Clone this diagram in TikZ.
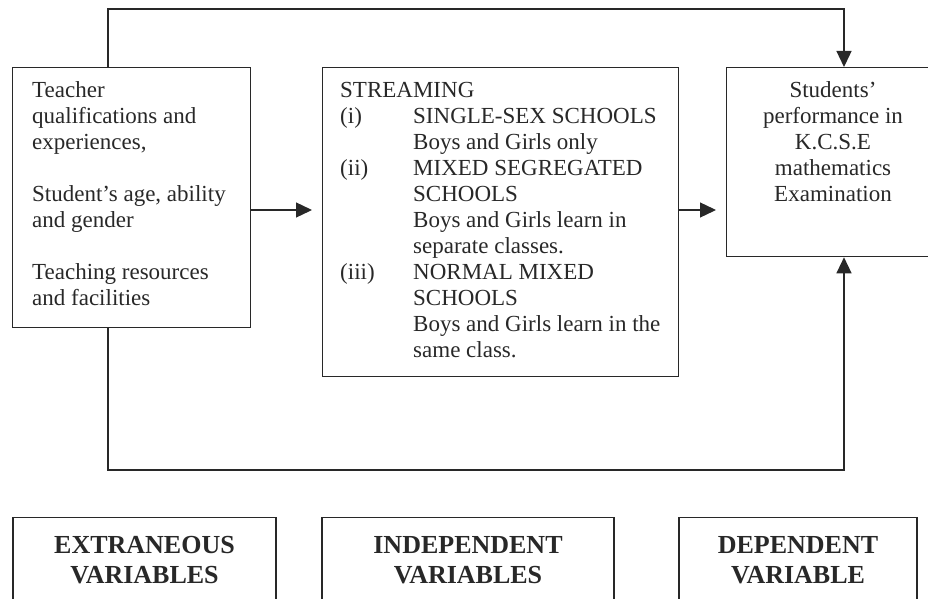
\documentclass[tikz,border=0pt]{standalone}
\usepackage{fontspec}
\setmainfont{Liberation Serif}
\usepackage{tikz}
\usetikzlibrary{arrows.meta,positioning}
\usepackage{xcolor}
\definecolor{inkgray}{RGB}{40,40,40}
\tikzstyle{frame} = [draw=inkgray, line width=1.3pt, inner sep=0pt, anchor=north west]
\tikzstyle{boxtext} = [text=inkgray, inner sep=0pt, font=\fontsize{23}{26}\selectfont]
\tikzstyle{vartitle} = [draw=inkgray, line width=1.3pt, text=inkgray, anchor=north, inner xsep=0pt, inner ysep=19pt, align=center, font=\fontsize{26}{30}\selectfont\bfseries]
\tikzstyle{flow} = [draw=inkgray, line width=1.3pt, -{Triangle[length=16pt,width=15pt]}]
\newcommand{\itemlbl}[1]{\makebox[73pt][l]{#1}}

\begin{document}
\begin{tikzpicture}[x=1pt, y=-1pt]
\useasboundingbox (0,0) rectangle (928,599);

% Boxes
\node[frame, minimum width=238pt, minimum height=260pt] (ext) at (12,67) {};
\node[frame, minimum width=356pt, minimum height=309pt] (ind) at (322,67) {};
\node[frame, minimum width=214pt, minimum height=189pt] (dep) at (726,67) {};

% Box texts
\node[boxtext, anchor=north west, align=left] (exttext) at (32,81)
  {Teacher\\qualifications and\\experiences,\\[26pt]Student's age, ability\\and gender\\[26pt]Teaching resources\\and facilities};
\node[boxtext, anchor=north west, align=left] (indtext) at (340,82)
  {STREAMING\\
   \itemlbl{(i)}SINGLE-SEX SCHOOLS\\
   \itemlbl{}Boys and Girls only\\
   \itemlbl{(ii)}MIXED SEGREGATED\\
   \itemlbl{}SCHOOLS\\
   \itemlbl{}Boys and Girls learn in\\
   \itemlbl{}separate classes.\\
   \itemlbl{(iii)}NORMAL MIXED\\
   \itemlbl{}SCHOOLS\\
   \itemlbl{}Boys and Girls learn in the\\
   \itemlbl{}same class.};
\node[boxtext, anchor=north, align=center] (deptext) at (833,81)
  {Students'\\performance in\\K.C.S.E\\mathematics\\Examination};

% Arrows between boxes
\coordinate (row) at (0,210);
\draw[flow, shorten >=10pt] (ext.east |- row) -- (ind.west |- row);
\draw[flow, shorten >=10pt] (ind.east |- row) -- (dep.west |- row);

% Direct links of extraneous variables
\coordinate (tl) at (108,9);
\coordinate (tr) at (844,9);
\draw[flow] (ext.north -| tl) -- (tl) -- (tr) -- (dep.north -| tr);
\coordinate (bl) at (108,470);
\coordinate (br) at (844,470);
\draw[flow] (ext.south -| bl) -- (bl) -- (br) -- (dep.south -| br);

% Variable labels
\node[vartitle, minimum width=263pt] (extlbl) at (144.5,517) {EXTRANEOUS\\VARIABLES};
\node[vartitle, minimum width=292pt] (indlbl) at (468,517) {INDEPENDENT\\VARIABLES};
\node[vartitle, minimum width=238pt] (deplbl) at (798,517) {DEPENDENT\\VARIABLE};
\end{tikzpicture}
\end{document}
